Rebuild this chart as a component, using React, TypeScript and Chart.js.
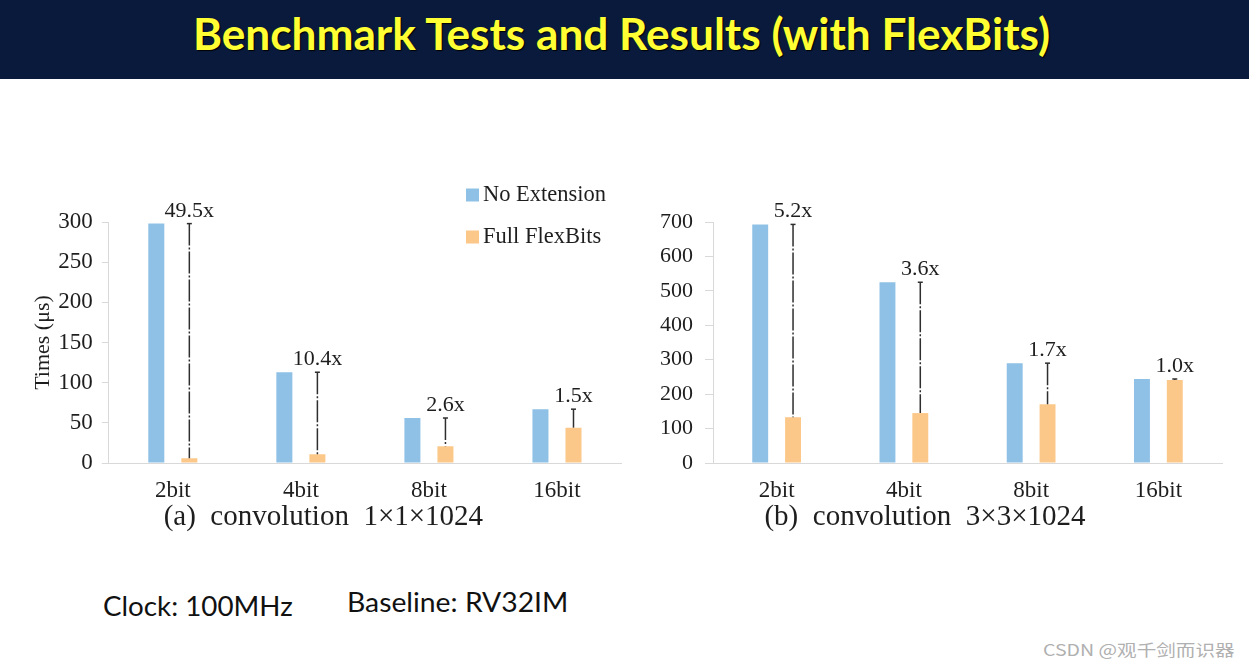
import React, { useEffect, useLayoutEffect, useRef, useState } from 'react';
import { Chart, registerables } from 'chart.js';

Chart.register(...registerables);

// ---------------- data ----------------
const categories = ['2bit', '4bit', '8bit', '16bit'];
const seriesNames = ['No Extension', 'Full FlexBits'];

const convA_noExt = [298, 113, 56, 67];
const convA_flex = [6, 11, 21, 44];
const convA_speedup = ['49.5x', '10.4x', '2.6x', '1.5x'];
const convA_ticks = [0, 50, 100, 150, 200, 250, 300];
const convA_caption = '(a)  convolution  1×1×1024';
const convA_yTitle = 'Times (μs)';

const convB_noExt = [693, 525, 290, 244];
const convB_flex = [133, 145, 171, 241];
const convB_speedup = ['5.2x', '3.6x', '1.7x', '1.0x'];
const convB_ticks = [0, 100, 200, 300, 400, 500, 600, 700];
const convB_caption = '(b)  convolution  3×3×1024';

const pageTitle = 'Benchmark Tests and Results (with FlexBits)';
const noteClock = 'Clock: 100MHz';
const noteBaseline = 'Baseline: RV32IM';
const watermark = 'CSDN @观千剑而识器';

// ---------------- styles ----------------
const SERIF = '"Liberation Serif", "DejaVu Serif", serif';
const TEXT = '#1e1e1e';
const BLUE = '#8fc1e6';
const ORANGE = '#fcc88a';
const AXIS = '#d9d9d9';

function makeSpeedupPlugin(labels: string[]) {
  return {
    id: 'speedup',
    afterDatasetsDraw(chart: any) {
      const m0 = chart.getDatasetMeta(0);
      const m1 = chart.getDatasetMeta(1);
      const ctx = chart.ctx;
      ctx.save();
      labels.forEach((txt, i) => {
        const x = m1.data[i].x;
        const yTop = m0.data[i].y;
        const yBot = m1.data[i].y;
        ctx.strokeStyle = '#2e2e2e';
        ctx.lineWidth = 1.5;
        ctx.setLineDash([22, 2, 2, 2]);
        ctx.beginPath();
        ctx.moveTo(x, yTop);
        ctx.lineTo(x, yBot);
        ctx.stroke();
        ctx.setLineDash([]);
        ctx.beginPath();
        ctx.moveTo(x - 2.5, yTop);
        ctx.lineTo(x + 2.5, yTop);
        ctx.stroke();
        ctx.fillStyle = TEXT;
        ctx.font = `22px ${SERIF}`;
        ctx.textAlign = 'center';
        ctx.textBaseline = 'alphabetic';
        ctx.fillText(txt, x, yTop - 7);
      });
      ctx.restore();
    },
  };
}

function makeLegendPlugin(pos: { x: number; y: number; gap: number } | null) {
  return {
    id: 'boxLegend',
    afterDraw(chart: any) {
      if (!pos) return;
      const ctx = chart.ctx;
      ctx.save();
      chart.data.datasets.forEach((ds: any, i: number) => {
        const cy = pos.y + i * pos.gap;
        ctx.fillStyle = ds.backgroundColor;
        ctx.fillRect(pos.x, cy - 6.5, 13, 13);
        ctx.fillStyle = TEXT;
        ctx.font = `22.5px ${SERIF}`;
        ctx.textAlign = 'left';
        ctx.textBaseline = 'middle';
        ctx.fillText(ds.label, pos.x + 17, cy);
      });
      ctx.restore();
    },
  };
}

type Spec = {
  left: number; top: number; w: number; h: number;
  noExt: number[]; flex: number[]; speedup: string[]; ticks: number[];
  caption: string; yTitle: string | null;
  yWidth: number; padLeft: number; padRight: number;
  tickLen: number; tickPad: number; tickFont: number;
  legend: { x: number; y: number; gap: number } | null;
};

function buildConfig(s: Spec): any {
  const step = s.ticks[1] - s.ticks[0];
  return {
    type: 'bar',
    data: {
      labels: categories,
      datasets: [
        { label: seriesNames[0], data: s.noExt, backgroundColor: BLUE, borderWidth: 0 },
        { label: seriesNames[1], data: s.flex, backgroundColor: ORANGE, borderWidth: 0 },
      ],
    },
    options: {
      responsive: false,
      animation: false,
      devicePixelRatio: 1,
      layout: { padding: { left: s.padLeft, right: s.padRight, top: 52, bottom: 5.6 } },
      datasets: { bar: { categoryPercentage: 0.516, barPercentage: 0.485 } },
      plugins: {
        legend: { display: false },
        tooltip: { enabled: false },
        title: {
          display: true,
          position: 'bottom',
          text: s.caption,
          color: TEXT,
          font: { family: SERIF, size: 29, weight: 'normal', lineHeight: 1.2 },
          padding: 0,
        },
      },
      scales: {
        x: {
          grid: { display: false, drawTicks: false },
          border: { display: true, color: AXIS, width: 1 },
          ticks: { color: TEXT, font: { family: SERIF, size: 23 }, padding: 14 },
          afterFit: (sc: any) => { sc.height = 36.6; },
        },
        y: {
          min: s.ticks[0],
          max: s.ticks[s.ticks.length - 1],
          ticks: { stepSize: step, color: TEXT, font: { family: SERIF, size: s.tickFont }, padding: s.tickPad },
          afterBuildTicks: (sc: any) => { sc.ticks = s.ticks.map((v) => ({ value: v })); },
          grid: { drawOnChartArea: false, drawTicks: true, tickLength: s.tickLen, color: AXIS },
          border: { display: true, color: AXIS, width: 1 },
          title: s.yTitle
            ? { display: true, text: s.yTitle, color: TEXT, font: { family: SERIF, size: 22 }, padding: { top: 4, bottom: 0 } }
            : { display: false },
          afterFit: (sc: any) => { sc.width = s.yWidth; },
        },
      },
    },
    plugins: [makeSpeedupPlugin(s.speedup), makeLegendPlugin(s.legend)],
  };
}

function BarPanel({ spec }: { spec: Spec }) {
  const ref = useRef<HTMLCanvasElement>(null);
  useEffect(() => {
    if (!ref.current) return;
    const chart = new Chart(ref.current, buildConfig(spec));
    return () => chart.destroy();
  }, []);
  return (
    <canvas
      ref={ref}
      width={spec.w}
      height={spec.h}
      style={{ position: 'absolute', left: spec.left, top: spec.top, width: spec.w, height: spec.h }}
    />
  );
}

function FitText({ text, left, top, width, style }: any) {
  const ref = useRef<HTMLSpanElement>(null);
  const [sx, setSx] = useState(1);
  useLayoutEffect(() => {
    if (ref.current) {
      const w = ref.current.offsetWidth;
      if (w) setSx(width / w);
    }
  }, [text, width]);
  return (
    <span
      ref={ref}
      style={{
        position: 'absolute', left, top, whiteSpace: 'nowrap',
        transformOrigin: '0 0', transform: `scaleX(${sx})`, ...style,
      }}
    >
      {text}
    </span>
  );
}

const specA: Spec = {
  left: 20, top: 170, w: 606, h: 370,
  noExt: convA_noExt, flex: convA_flex, speedup: convA_speedup, ticks: convA_ticks,
  caption: convA_caption, yTitle: convA_yTitle,
  yWidth: 83, padLeft: 5.8, padRight: 5,
  tickLen: 7, tickPad: 9, tickFont: 23,
  legend: { x: 446, y: 25, gap: 42 },
};

const specB: Spec = {
  left: 628, top: 170, w: 596, h: 370,
  noExt: convB_noExt, flex: convB_flex, speedup: convB_speedup, ticks: convB_ticks,
  caption: convB_caption, yTitle: null,
  yWidth: 85, padLeft: 0, padRight: 2,
  tickLen: 8, tickPad: 12, tickFont: 22,
  legend: null,
};

export default function App() {
  useEffect(() => {
    document.body.style.margin = '0';
  }, []);
  return (
    <div style={{ position: 'absolute', left: 0, top: 0, width: 1249, height: 672, background: '#ffffff', overflow: 'hidden' }}>
      <div style={{ position: 'absolute', left: 0, top: 0, width: 1249, height: 79, background: '#0a1a3c' }} />
      <FitText
        text={pageTitle}
        left={193}
        top={6.6}
        width={857}
        style={{ fontFamily: 'Lato, "Open Sans", sans-serif', fontWeight: 700, fontSize: 44, lineHeight: 1.2, color: '#ffff33', textShadow: '1px 1px 1px #000' }}
      />
      <BarPanel spec={specA} />
      <BarPanel spec={specB} />
      <FitText
        text={noteClock}
        left={103}
        top={591.3}
        width={190}
        style={{ fontFamily: 'Lato, "Open Sans", sans-serif', fontSize: 26, lineHeight: 1.2, color: '#111' }}
      />
      <FitText
        text={noteBaseline}
        left={347}
        top={587.3}
        width={221}
        style={{ fontFamily: 'Lato, "Open Sans", sans-serif', fontSize: 26, lineHeight: 1.2, color: '#111' }}
      />
      <FitText
        text={watermark}
        left={1043}
        top={641}
        width={192}
        style={{ fontFamily: '"Noto Sans CJK SC", "Noto Sans", sans-serif', fontSize: 16, lineHeight: 1, color: '#b0b0b0' }}
      />
    </div>
  );
}
